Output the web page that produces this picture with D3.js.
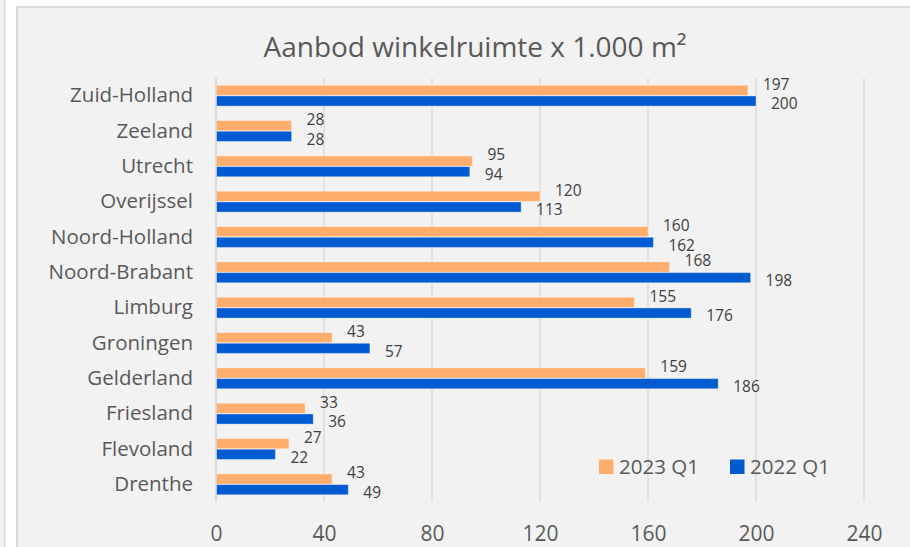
<!DOCTYPE html>
<html>
<head>
<meta charset="utf-8">
<script src="https://cdn.jsdelivr.net/npm/d3@7"></script>
<style>
  html, body { margin: 0; padding: 0; background: #ffffff; }
  svg { display: block; }
</style>
</head>
<body>
<svg id="chart" width="910" height="547"></svg>
<script>
const categories = ["Zuid-Holland","Zeeland","Utrecht","Overijssel","Noord-Holland","Noord-Brabant","Limburg","Groningen","Gelderland","Friesland","Flevoland","Drenthe"];
const series2023 = [197, 28, 95, 120, 160, 168, 155, 43, 159, 33, 27, 43];
const series2022 = [200, 28, 94, 113, 162, 198, 176, 57, 186, 36, 22, 49];
const seriesNames = ["2023 Q1", "2022 Q1"];
const seriesColors = ["#FFAD6D", "#005BD3"];
const xTicks = [0, 40, 80, 120, 160, 200, 240];
const titleText = "Aanbod winkelruimte x 1.000 m²";

const svg = d3.select("#chart");
const font = "'Open Sans', 'Noto Sans', sans-serif";
const textColor = "#595959";

// left neighbour panel edge
svg.append("rect").attr("x", 0).attr("y", 0).attr("width", 4).attr("height", 547).attr("fill", "#f2f2f2");
svg.append("rect").attr("x", 4).attr("y", 0).attr("width", 1.5).attr("height", 547).attr("fill", "#d9d9d9");

// chart box
svg.append("rect").attr("x", 17).attr("y", 7).attr("width", 900).attr("height", 560)
  .attr("fill", "#f2f2f2").attr("stroke", "#d9d9d9").attr("stroke-width", 2);

const plot = { left: 216, right: 864, top: 78, bottom: 502 };

const x = d3.scaleLinear().domain([0, 240]).range([plot.left, plot.right]);
const y = d3.scaleBand().domain(categories).range([plot.top, plot.bottom])
  .paddingInner(0.41).paddingOuter(0.205);
const ySub = d3.scaleBand().domain(seriesNames).range([0, y.bandwidth()]).paddingInner(0.05);

// gridlines
svg.append("g").selectAll("line").data(xTicks).join("line")
  .attr("x1", d => x(d)).attr("x2", d => x(d))
  .attr("y1", plot.top).attr("y2", plot.bottom)
  .attr("stroke", "#dcdcdc").attr("stroke-width", 1.6);

// title
svg.append("text").attr("x", 475).attr("y", 57)
  .attr("text-anchor", "middle").attr("font-family", font).attr("font-size", 28)
  .attr("fill", textColor).text(titleText);

// x axis labels
const xAxis = d3.axisBottom(x).tickValues(xTicks).tickSize(0).tickPadding(0);
const gx = svg.append("g").attr("transform", `translate(0, ${plot.bottom})`).call(xAxis);
gx.select(".domain").remove();
gx.selectAll("text").attr("font-family", font).attr("font-size", 21)
  .attr("fill", textColor).attr("dy", null).attr("y", 39);

// y axis labels
const yAxis = d3.axisLeft(y).tickSize(0).tickPadding(23);
const gy = svg.append("g").attr("transform", `translate(${plot.left}, 0)`).call(yAxis);
gy.select(".domain").remove();
gy.selectAll("text").attr("font-family", font).attr("font-size", 20.5)
  .attr("fill", textColor);

const seriesData = [series2023, series2022];
const labelDy = [-6, 3];

seriesData.forEach((vals, si) => {
  const g = svg.append("g");
  g.selectAll("rect").data(vals).join("rect")
    .attr("x", x(0))
    .attr("y", (d, i) => y(categories[i]) + ySub(seriesNames[si]))
    .attr("width", d => x(d) - x(0))
    .attr("height", ySub.bandwidth())
    .attr("fill", seriesColors[si])
    .attr("stroke", "rgba(255,255,255,0.35)").attr("stroke-width", 1);
  g.selectAll("text").data(vals).join("text")
    .attr("x", d => x(d) + 15)
    .attr("y", (d, i) => y(categories[i]) + ySub(seriesNames[si]) + ySub.bandwidth() / 2 + labelDy[si])
    .attr("dy", "0.35em")
    .attr("font-family", font).attr("font-size", 15.5).attr("fill", "#404040")
    .text(d => d);
});

// y axis line
svg.append("line").attr("x1", plot.left).attr("x2", plot.left)
  .attr("y1", plot.top).attr("y2", plot.bottom)
  .attr("stroke", "#d9d9d9").attr("stroke-width", 1.6);

// legend
const legendX = [599, 730];
const legend = svg.append("g");
seriesNames.forEach((name, i) => {
  legend.append("rect").attr("x", legendX[i]).attr("y", 459.5).attr("width", 14.5).attr("height", 14.5)
    .attr("fill", seriesColors[i]);
  legend.append("text").attr("x", legendX[i] + 20).attr("y", 467).attr("dy", "0.35em")
    .attr("font-family", font).attr("font-size", 20.5).attr("fill", textColor).text(name);
});
</script>
</body>
</html>
